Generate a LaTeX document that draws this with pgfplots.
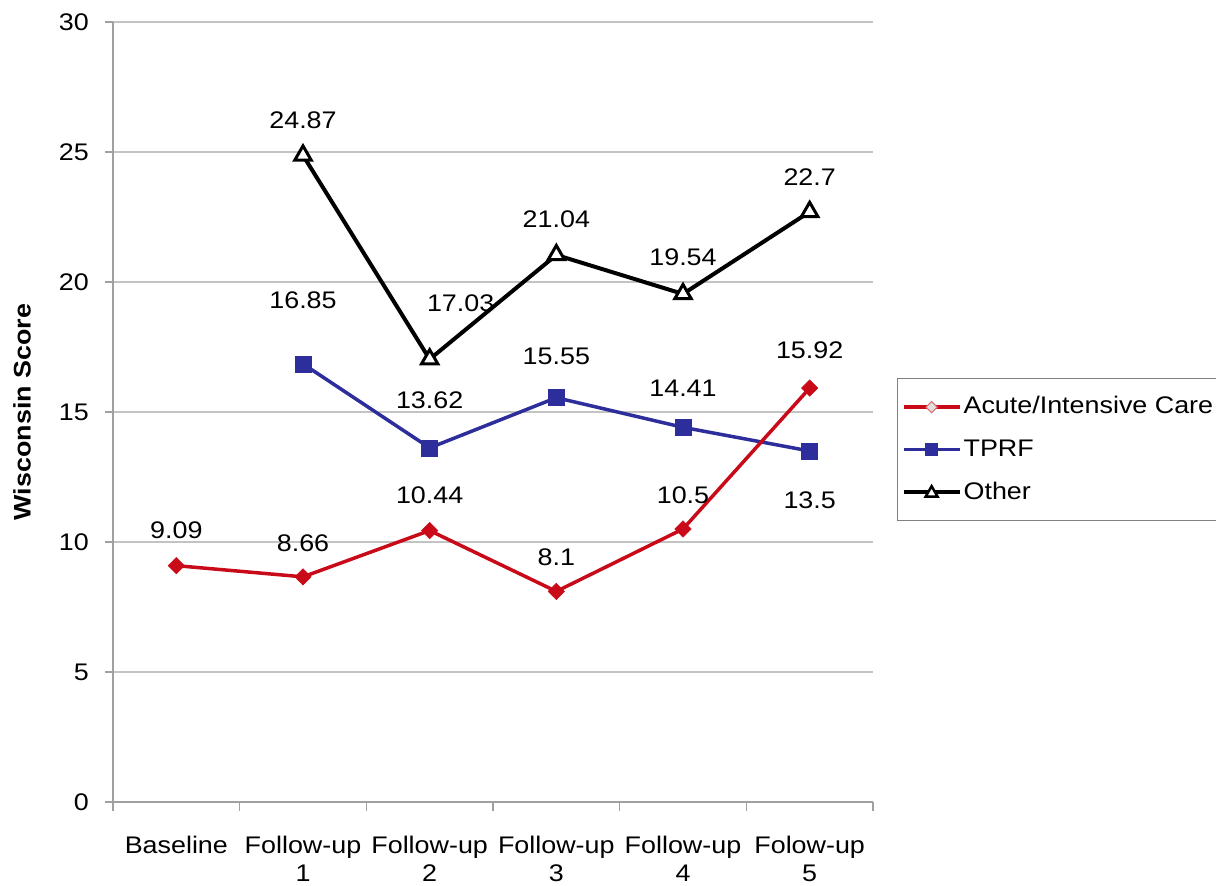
\documentclass[border=0pt]{standalone}
\usepackage{fontspec}
\setmainfont[FakeStretch=1.12]{Liberation Sans}
\usepackage{pgfplots}
\usepackage{pgfplotstable}
\pgfplotsset{compat=1.18}

\definecolor{acutered}{RGB}{200,10,25}
\definecolor{tprfblue}{RGB}{45,45,155}
\definecolor{axisgray}{RGB}{160,160,160}
\definecolor{gridgray}{RGB}{195,195,195}

% x = category index, dx/dy = label offset in pt
\pgfplotstableread{
x y lbl dx dy
0 9.09 9.09 0 35
1 8.66 8.66 0 34
2 10.44 10.44 0 35
3 8.1 8.1 0 34
4 10.5 10.5 0 34
5 15.92 15.92 0 38
}\acute
\pgfplotstableread{
x y lbl dx dy
1 16.85 16.85 0 64
2 13.62 13.62 0 48
3 15.55 15.55 0 41
4 14.41 14.41 0 39
5 13.5 13.5 0 -49
}\tprf
\pgfplotstableread{
x y lbl dx dy
1 24.87 24.87 0 35
2 17.03 17.03 31 56
3 21.04 21.04 0 36
4 19.54 19.54 0 37
5 22.7 22.7 0 35
}\other

\begin{document}
\fontsize{24}{28}\selectfont
\begin{tikzpicture}
\path[use as bounding box] (0,0) rectangle (1216pt,886pt);
\begin{axis}[
	at={(113pt,84pt)}, anchor=south west,
	scale only axis,
	width=760pt, height=780pt,
	font=\fontsize{24}{28}\selectfont,
	xmin=-0.5, xmax=5.5,
	ymin=0, ymax=30,
	ytick={0,5,...,30},
	xtick={0,...,5},
	xticklabels={Baseline,Follow-up\\1,Follow-up\\2,Follow-up\\3,Follow-up\\4,Folow-up\\5},
	xticklabel style={align=center, yshift=-18pt},
	minor xtick={-0.5,0.5,...,5.5},
	major x tick style={draw=none},
	minor tick length=9pt,
	major tick length=8pt,
	tick align=outside,
	tick style={axisgray, line width=1.5pt},
	axis x line*=bottom,
	axis y line*=left,
	axis line style={axisgray, line width=2pt, -},
	ymajorgrids,
	grid style={gridgray, line width=1.8pt},
	/pgf/number format/assume math mode=true,
	yticklabel style={xshift=-8pt},
	ylabel={\bfseries Wisconsin Score},
	ylabel style={at={(axis description cs:-0.1197,0.5)}, anchor=center},
	clip=false,
	reverse legend,
	legend style={at={(1.0316,0.5436)}, anchor=north west, draw=gray, line width=1.2pt,
		inner xsep=4pt, inner ysep=16pt, row sep=18pt,
		font=\fontsize{24}{28}\selectfont,
		/tikz/every even column/.append style={column sep=2pt}},
	legend cell align=left,
	legend image code/.code={
		\draw[mark repeat=2, mark phase=2, line width=3.5pt]
		plot coordinates {(0pt,0pt) (28pt,0pt) (56pt,0pt)};},
	nodes near coords,
	point meta=explicit symbolic,
	visualization depends on={\thisrow{dx}\as\dx},
	visualization depends on={\thisrow{dy}\as\dy},
	every node near coord/.append style={anchor=center, xshift=\dx pt, yshift=\dy pt, text=black,
		font=\fontsize{24}{28}\selectfont},
]
\addplot[black, line width=4pt, mark=triangle*, mark size=9.5pt,
	mark options={fill=white, draw=black, line width=3pt},
	legend image code/.code={
		\draw[black, line width=4pt] (0pt,0pt) -- (56pt,0pt);
		\draw[black, fill=white, line width=2.5pt]
		(22pt,-4.5pt) -- (34pt,-4.5pt) -- (28pt,6pt) -- cycle;}]
	table[x=x, y=y, meta=lbl] {\other};
\addlegendentry{Other}
\addplot[tprfblue, line width=3.5pt, mark=square*, mark size=8pt,
	mark options={fill=tprfblue, draw=tprfblue, line width=0.5pt},
	legend image code/.code={
		\draw[tprfblue, line width=3.5pt] (0pt,0pt) -- (56pt,0pt);
		\fill[tprfblue] (23pt,-5pt) rectangle (33pt,5pt);}]
	table[x=x, y=y, meta=lbl] {\tprf};
\addlegendentry{TPRF}
\addplot[acutered, line width=3.5pt, mark=square*, mark size=5.8pt,
	mark options={fill=acutered, draw=acutered, rotate=45, line width=0.5pt},
	legend image code/.code={
		\draw[acutered, line width=3.5pt] (0pt,0pt) -- (56pt,0pt);
		\draw[acutered!60, fill=gray!25, line width=1pt, rotate around={45:(28pt,0pt)}]
		(24pt,-4pt) rectangle (32pt,4pt);}]
	table[x=x, y=y, meta=lbl] {\acute};
\addlegendentry{Acute/Intensive Care}
\end{axis}
\end{tikzpicture}
\end{document}
